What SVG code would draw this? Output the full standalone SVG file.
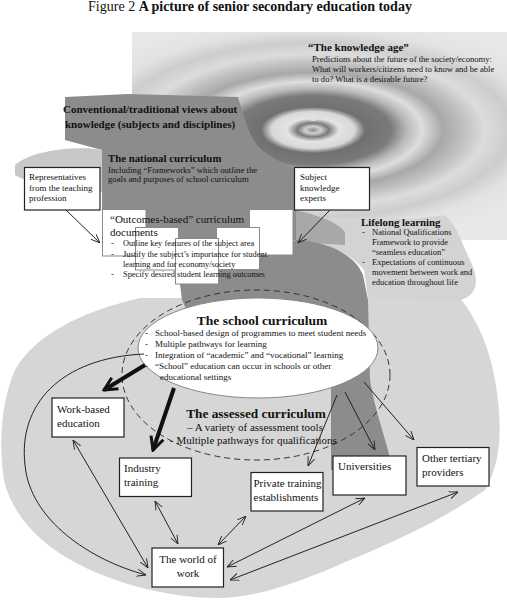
<svg xmlns="http://www.w3.org/2000/svg" width="507" height="600" viewBox="0 0 507 600">
<style>
text { font-family: "Liberation Serif", "Times New Roman", serif; fill:#111; }
.b { font-weight:bold; }
.box { fill:#fff; stroke:#222; stroke-width:1.2; }
.doc { fill:#fff; stroke:#8a8a8a; stroke-width:1; }
.bt { font-size:11px; }
.ln { fill:none; stroke:#222; stroke-width:1; }
.thick { fill:none; stroke:#111; stroke-width:4; }
</style>
<defs>
<clipPath id="rc"><rect x="132" y="32" width="375" height="208"/></clipPath>
<radialGradient id="ripple" cx="0.5" cy="0.5" r="0.5">
<stop offset="0" stop-color="#8a8a8a"/>
<stop offset="0.03" stop-color="#d0d0d0"/>
<stop offset="0.06" stop-color="#7a7a7a"/>
<stop offset="0.10" stop-color="#e4e4e4"/>
<stop offset="0.16" stop-color="#d8d8d8"/>
<stop offset="0.20" stop-color="#707070"/>
<stop offset="0.30" stop-color="#7a7a7a"/>
<stop offset="0.36" stop-color="#b8b8b8"/>
<stop offset="0.42" stop-color="#dedede"/>
<stop offset="0.50" stop-color="#a8a8a8"/>
<stop offset="0.58" stop-color="#c0c0c0"/>
<stop offset="0.66" stop-color="#dcdcdc"/>
<stop offset="0.76" stop-color="#cdcdcd"/>
<stop offset="0.86" stop-color="#e2e2e2"/>
<stop offset="1" stop-color="#e8e8e8"/>
</radialGradient>
<marker id="ah" viewBox="0 0 10 10" markerWidth="9" markerHeight="9" refX="10" refY="5" orient="auto-start-reverse" markerUnits="userSpaceOnUse">
<path d="M0,1 L10,5 L0,9" fill="none" stroke="#222" stroke-width="1"/>
</marker>
<marker id="th" viewBox="0 0 16 16" markerWidth="16" markerHeight="16" refX="14" refY="8" orient="auto" markerUnits="userSpaceOnUse">
<path d="M1,1.5 L14,8 L1,14.5" fill="none" stroke="#111" stroke-width="3"/>
</marker>
</defs>

<g id="background">
<rect x="132" y="32" width="375" height="208" fill="#e8e8e8"/>
<ellipse cx="313" cy="130" rx="260" ry="115" fill="url(#ripple)" clip-path="url(#rc)"/>
<ellipse cx="313" cy="117" rx="6" ry="4" fill="#e0e0e0"/>
<path d="M140,298 L460,298 C478,320 490,350 495,380 C502,420 503,460 485,490 C450,515 400,540 350,560 C300,582 260,597 220,598 C170,598 120,585 80,565 C40,545 12,515 4,480 C-2,440 2,400 15,370 C35,335 80,312 140,298 Z" fill="#d6d6d6"/>
<path d="M296,212 C330,222 400,222 445,215 C460,230 462,245 470,260 C480,280 478,295 460,300 L395,298 L368,298 L364,270 C350,252 325,243 296,242 Z" fill="#d3d3d3"/>
<path d="M296,210 C315,215 335,220 345,232 L345,245 L296,242 Z" fill="#a8a8a8"/>
<path d="M65,97 L128,94 L238,97 C245,120 250,140 262,150 C275,160 288,165 296,170 L296,240 L175,245 L172,256 L102,256 L102,150 L65,140 Z" fill="#8c8c8c"/>
<path d="M175,245 L300,240 C330,243 355,255 363,275 L368,300 L370,380 C375,410 383,430 390,458 L331,470 L331,380 L200,340 L182,300 Z" fill="#8c8c8c"/>
<path d="M15,165 C30,150 80,145 102,150 L102,192 C70,190 30,185 15,175 Z" fill="#c8c8c8"/>
</g>

<g id="knowledge-age">
<text x="308" y="51" font-size="11" class="b">“The knowledge age”</text>
<text x="312" y="62" font-size="8.6">Predictions about the future of the society/economy:</text>
<text x="312" y="72" font-size="8.6">What will workers/citizens need to know and be able</text>
<text x="312" y="82" font-size="8.6">to do? What is a desirable future?</text>
</g>

<g id="conventional">
<text x="63" y="113" font-size="11" class="b">Conventional/traditional views about</text>
<text x="65" y="128" font-size="11" class="b">knowledge (subjects and disciplines)</text>
</g>

<g id="national-curriculum">
<text x="108" y="162" font-size="10.8" class="b">The national curriculum</text>
<text x="108" y="173" font-size="8.7">Including “Frameworks” which outline the</text>
<text x="108" y="182" font-size="8.7">goals and purposes of school curriculum</text>
</g>

<g id="representatives">
<rect class="box" x="24.5" y="167.5" width="75.5" height="42.5"/>
<text x="29" y="180" font-size="9">Representatives</text>
<text x="29" y="190.5" font-size="9">from the teaching</text>
<text x="29" y="201" font-size="9">profession</text>
</g>

<g id="subject-experts">
<rect class="box" x="294.5" y="167.5" width="75" height="42.5"/>
<text x="300" y="180" font-size="9">Subject</text>
<text x="300" y="190.5" font-size="9">knowledge</text>
<text x="300" y="201" font-size="9">experts</text>
</g>

<g id="outcomes-documents">
<rect class="doc" x="102.5" y="209.5" width="43.5" height="46.5"/>
<rect class="doc" x="249.5" y="209.5" width="43.5" height="45.5"/>
<rect class="doc" x="135.5" y="227.5" width="43" height="42.5"/>
<rect class="doc" x="216.5" y="227.5" width="43" height="42"/>
<rect class="doc" x="175.5" y="238.5" width="43" height="45.5"/>
<text x="110" y="223" font-size="11">“Outcomes-based” curriculum</text>
<text x="110" y="236" font-size="11">documents</text>
<text x="111" y="246" font-size="8.4">-</text>
<text x="123" y="246" font-size="8.4">Outline key features of the subject area</text>
<text x="111" y="256.5" font-size="8.4">-</text>
<text x="123" y="256.5" font-size="8.4">Justify the subject’s importance for student</text>
<text x="123" y="266.5" font-size="8.4">learning and for economy/society</text>
<text x="111" y="277" font-size="8.4">-</text>
<text x="123" y="277" font-size="8.4">Specify desired student learning outcomes</text>
</g>

<g id="lifelong-learning">
<text x="361" y="226" font-size="10.8" class="b">Lifelong learning</text>
<text x="362" y="235" font-size="8.5">-</text>
<text x="372" y="235" font-size="8.5">National Qualifications</text>
<text x="372" y="245" font-size="8.5">Framework to provide</text>
<text x="372" y="255" font-size="8.5">“seamless education”</text>
<text x="362" y="265" font-size="8.5">-</text>
<text x="372" y="265" font-size="8.5">Expectations of continuous</text>
<text x="372" y="275" font-size="8.5">movement between work and</text>
<text x="372" y="285" font-size="8.5">education throughout life</text>
</g>

<g id="assessed-curriculum">
<ellipse cx="256" cy="375" rx="134" ry="85" fill="none" stroke="#333" stroke-width="1" stroke-dasharray="6,4"/>
<text x="256" y="418" font-size="13.3" class="b" text-anchor="middle">The assessed curriculum</text>
<text x="187" y="431" font-size="11">– A variety of assessment tools</text>
<text x="170" y="444" font-size="11">- Multiple pathways for qualifications</text>
</g>

<g id="school-curriculum">
<ellipse cx="258" cy="348" rx="120" ry="50" fill="#fff" stroke="#888" stroke-width="1"/>
<text x="262" y="325" font-size="13.5" class="b" text-anchor="middle">The school curriculum</text>
<text x="145" y="336" font-size="9">-</text>
<text x="155" y="336" font-size="9">School-based design of programmes to meet student needs</text>
<text x="145" y="346.5" font-size="9">-</text>
<text x="155" y="346.5" font-size="9">Multiple pathways for learning</text>
<text x="145" y="358" font-size="9">-</text>
<text x="155" y="358" font-size="9">Integration of “academic” and “vocational” learning</text>
<text x="145" y="369" font-size="9">-</text>
<text x="155" y="369" font-size="9">“School” education can occur in schools or other</text>
<text x="160" y="379.5" font-size="9">educational settings</text>
</g>

<g id="work-based-education">
<rect class="box" x="52" y="398" width="72" height="39"/>
<text class="bt" x="57" y="413">Work-based</text>
<text class="bt" x="57" y="427">education</text>
</g>

<g id="industry-training">
<rect class="box" x="119.5" y="458" width="72" height="38.5"/>
<text class="bt" x="124" y="472">Industry</text>
<text class="bt" x="124" y="486">training</text>
</g>

<g id="private-training">
<rect class="box" x="251" y="472.5" width="72" height="38.5"/>
<text class="bt" x="253.5" y="487">Private training</text>
<text class="bt" x="253.5" y="501">establishments</text>
</g>

<g id="universities">
<rect class="box" x="333" y="456" width="73" height="39"/>
<text class="bt" x="338" y="470">Universities</text>
</g>

<g id="other-tertiary">
<rect class="box" x="417" y="447.5" width="72" height="38.5"/>
<text class="bt" x="422" y="462">Other tertiary</text>
<text class="bt" x="422" y="476">providers</text>
</g>

<g id="world-of-work">
<rect class="box" x="152" y="548" width="71.5" height="39"/>
<text class="bt" x="188" y="563" text-anchor="middle">The world of</text>
<text class="bt" x="188" y="577" text-anchor="middle">work</text>
</g>

<g id="connectors">
<path class="ln" d="M66,210 L100,243" marker-end="url(#ah)"/>
<path class="ln" d="M330,210 L298,243" marker-end="url(#ah)"/>
<path class="thick" d="M145,365 L104,390" marker-end="url(#th)"/>
<path class="thick" d="M174,388 L153,450" marker-end="url(#th)"/>
<path class="ln" d="M337,395 L308,466" marker-end="url(#ah)"/>
<path class="ln" d="M345,392 L375,450" marker-end="url(#ah)"/>
<path class="ln" d="M364,382 L414,440" marker-end="url(#ah)"/>
<path class="ln" d="M144,354 C60,358 18,405 25,465 C30,520 90,560 146,575" marker-end="url(#ah)"/>
<path class="ln" d="M73,440 L148,568" marker-start="url(#ah)" marker-end="url(#ah)"/>
<path class="ln" d="M155,501 L178,544" marker-start="url(#ah)" marker-end="url(#ah)"/>
<path class="ln" d="M246,516 L218,545" marker-start="url(#ah)" marker-end="url(#ah)"/>
<path class="ln" d="M365,498 L227,567" marker-start="url(#ah)" marker-end="url(#ah)"/>
<path class="ln" d="M458,492 L230,580" marker-start="url(#ah)" marker-end="url(#ah)"/>
</g>

<g id="title">
<text x="250" y="11" font-size="14" text-anchor="middle">Figure 2 <tspan class="b">A picture of senior secondary education today</tspan></text>
</g>
</svg>
